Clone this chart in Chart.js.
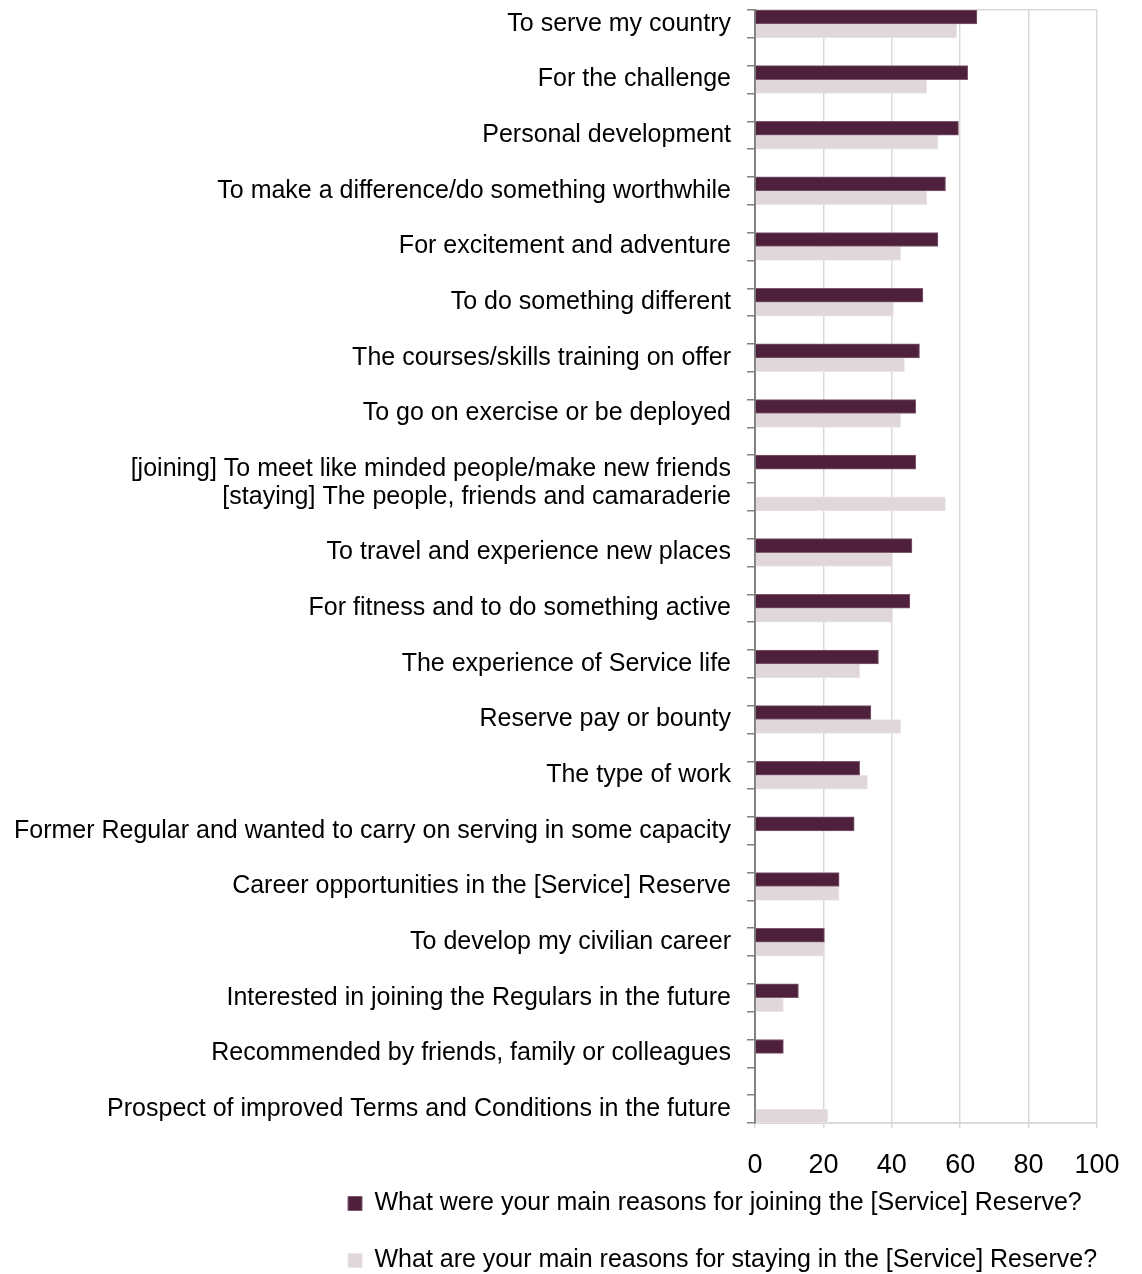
<!DOCTYPE html>
<html>
<head>
<meta charset="utf-8">
<title>Reasons for joining and staying in the Reserve</title>
<script src="https://cdn.jsdelivr.net/npm/chart.js@4.4.1/dist/chart.umd.min.js"></script>
<style>
html, body { margin: 0; padding: 0; background: #fff; overflow: hidden; }
#wrap { width: 1142px; height: 1274px; overflow: hidden; }
</style>
</head>
<body>
<div id="wrap"><canvas id="mycanvas" width="1142" height="1302"></canvas></div>
<script>
// rows with an empty label are spacer rows between the reasons
var reasons = [
	'To serve my country', '',
	'For the challenge', '',
	'Personal development', '',
	'To make a difference/do something worthwhile', '',
	'For excitement and adventure', '',
	'To do something different', '',
	'The courses/skills training on offer', '',
	'To go on exercise or be deployed', '',
	'[joining] To meet like minded people/make new friends',
	'[staying] The people, friends and camaraderie', '',
	'To travel and experience new places', '',
	'For fitness and to do something active', '',
	'The experience of Service life', '',
	'Reserve pay or bounty', '',
	'The type of work', '',
	'Former Regular and wanted to carry on serving in some capacity', '',
	'Career opportunities in the [Service] Reserve', '',
	'To develop my civilian career', '',
	'Interested in joining the Regulars in the future', '',
	'Recommended by friends, family or colleagues', '',
	'Prospect of improved Terms and Conditions in the future'
];

var joining = [64.9, null, 62.2, null, 59.5, null, 55.7, null, 53.5, null,
	49.1, null, 48.1, null, 47.0, null, 47.0, null, null, 45.9,
	null, 45.3, null, 36.1, null, 33.9, null, 30.6, null, 29.0,
	null, 24.6, null, 20.3, null, 12.7, null, 8.3, null, null];

var staying = [59.0, null, 50.2, null, 53.5, null, 50.2, null, 42.6, null,
	40.5, null, 43.7, null, 42.6, null, null, 55.7, null, 40.3,
	null, 40.3, null, 30.6, null, 42.6, null, 32.9, null, null,
	null, 24.6, null, 20.3, null, 8.3, null, null, null, 21.3];

var xTicks = [0, 20, 40, 60, 80, 100];

var joinLabel = 'What were your main reasons for joining the [Service] Reserve?';
var stayLabel = 'What are your main reasons for staying in the [Service] Reserve?';

var fontFamily = '"Liberation Sans Narrow", "Arial Narrow", sans-serif';
Chart.defaults.font.family = fontFamily;
Chart.defaults.color = '#000';

// pull the legend up under the axis numbers and start it at x=316
var legendPlace = {
	id: 'legendPlace',
	afterLayout: function(chart) {
		var lg = chart.legend;
		var h = lg.bottom - lg.top;
		lg.top = chart.scales.x.top + 36;
		lg.bottom = lg.top + h;
		lg.left = 316;
		lg.right = chart.width;
	}
};

var ctx = document.getElementById('mycanvas');

var barGraph = new Chart(ctx, {
	type: 'bar',
	data: {
		labels: reasons,
		datasets: [
			{
				label: joinLabel,
				data: joining,
				backgroundColor: '#4f203b',
				borderColor: '#7e5a6f',
				borderWidth: 1
			},
			{
				label: stayLabel,
				data: staying,
				backgroundColor: '#dfd7d9',
				borderColor: '#ece6e8',
				borderWidth: 1
			}
		]
	},
	plugins: [legendPlace],
	options: {
		indexAxis: 'y',
		responsive: false,
		animation: false,
		categoryPercentage: 1,
		barPercentage: 1,
		layout: { padding: { left: 0, top: 10, right: 45, bottom: 0 } },
		scales: {
			x: {
				min: 0,
				max: 100,
				afterBuildTicks: function(scale) {
					scale.ticks = xTicks.map(function(v) { return { value: v }; });
				},
				afterFit: function(scale) { scale.height = 55; },
				grid: {
					color: '#d9d9d9',
					lineWidth: 1.5,
					tickLength: 5,
					tickColor: '#d9d9d9'
				},
				border: { color: '#d9d9d9', width: 2 },
				ticks: {
					font: { size: 27 },
					padding: 21,
					color: '#000'
				}
			},
			y: {
				afterFit: function(scale) {
					scale.width = 755;
					scale.paddingTop = 0;
					scale.paddingBottom = 0;
				},
				grid: {
					drawOnChartArea: true,
					// only the top edge of the plot gets a line
					color: function(c) { return c.index === 0 ? '#d9d9d9' : 'rgba(0,0,0,0)'; },
					lineWidth: 1.5,
					tickLength: 8,
					tickColor: '#808080',
					tickWidth: 1.5
				},
				border: { color: '#808080', width: 2 },
				ticks: {
					autoSkip: false,
					font: { size: 25 },
					padding: 16,
					color: '#000'
				}
			}
		},
		plugins: {
			tooltip: { enabled: false },
			legend: {
				position: 'bottom',
				align: 'start',
				labels: {
					font: { size: 25 },
					boxWidth: 14,
					boxHeight: 14,
					padding: 32,
					color: '#000'
				}
			}
		}
	}
});
</script>
</body>
</html>
